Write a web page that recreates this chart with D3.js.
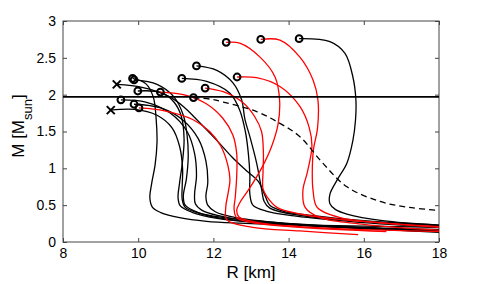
<!DOCTYPE html>
<html>
<head>
<meta charset="utf-8">
<script src="https://cdn.jsdelivr.net/npm/d3@7"></script>
<style>
  body { margin: 0; background: #fff; }
  svg { display: block; font-family: "Liberation Sans", Arial, sans-serif; }
</style>
</head>
<body>
<div id="chart"></div>
<script>
// mass-radius curves, points are [R km, M Msun] from max mass down to the crust
const blackA = [[9.85,2.22],[10.2,2.15],[10.4,1.97],[10.48,1.65],[10.5,1.35],[10.45,1.05],[10.36,0.8],[10.31,0.6],[10.38,0.47],[10.6,0.4],[11.1,0.33],[11.82,0.28],[12.7,0.255],[14.3,0.23],[16,0.215],[18,0.2]];
const blackB = [[9.89,2.2],[10.5,2.14],[10.95,1.97],[11.2,1.72],[11.3,1.45],[11.33,1.15],[11.28,0.85],[11.2,0.62],[11.25,0.5],[11.6,0.4],[12.3,0.33],[13.5,0.27],[15.5,0.21],[18,0.17]];
const blackC = [[9.99,2.05],[10.6,2.03],[10.95,1.9],[11.15,1.7],[11.22,1.4],[11.18,1.1],[11.1,0.8],[11.06,0.6],[11.12,0.49],[11.45,0.4],[12.1,0.32],[13.3,0.26],[15.5,0.2],[18,0.16]];
const blackD = [[9.27,1.79],[9.9,1.8],[10.5,1.72],[10.9,1.55],[11.1,1.3],[11.18,1.0],[11.17,0.75],[11.17,0.58],[11.25,0.47],[11.7,0.38],[12.5,0.3],[14,0.24],[16,0.19],[18,0.15]];
const blackE = [[9.54,1.93],[10.2,1.9],[10.85,1.75],[11.3,1.5],[11.5,1.2],[11.55,0.9],[11.5,0.65],[11.52,0.52],[11.7,0.43],[12.2,0.35],[13,0.28],[14.5,0.22],[18,0.14]];
const blackF = [[9.89,1.87],[10.6,1.82],[11.2,1.65],[11.6,1.4],[11.8,1.1],[11.85,0.8],[11.8,0.62],[11.85,0.5],[12.05,0.41],[12.6,0.33],[13.8,0.26],[15.5,0.2],[18,0.13]];
const blackG = [[9.43,2.14],[10.1,2.1],[10.8,1.98],[11.2,1.84],[11.56,1.66],[12.09,1.38],[12.5,1.15],[12.85,0.98],[13.2,0.82],[13.38,0.62],[13.5,0.5],[13.85,0.42],[14.6,0.36],[16,0.29],[18,0.23]];
const blackH = [[11.16,2.22],[11.82,2.18],[12.44,2.02],[12.7,1.79],[12.85,1.5],[12.93,1.2],[12.97,0.9],[12.97,0.65],[13.05,0.5],[13.4,0.42],[14.2,0.35],[15.8,0.27],[18,0.2]];
const blackI = [[11.55,2.39],[12.09,2.33],[12.52,2.16],[12.75,1.93],[12.84,1.66],[12.97,1.43],[13.15,1.07],[13.28,0.72],[13.35,0.55],[13.5,0.46],[14.3,0.36],[16,0.28],[18,0.22]];
const blackJ = [[14.28,2.76],[15.1,2.72],[15.5,2.56],[15.71,2.24],[15.79,1.93],[15.78,1.66],[15.71,1.38],[15.55,1.07],[15.3,0.85],[15.1,0.65],[15.1,0.52],[15.25,0.44],[15.55,0.38],[16.5,0.29],[18,0.23]];

const redA = [[10.02,1.82],[10.7,1.78],[11.46,1.66],[11.9,1.5],[12.2,1.3],[12.38,1.05],[12.44,0.84],[12.39,0.66],[12.33,0.48],[12.36,0.3],[13.05,0.2],[14.3,0.15],[15.85,0.1]];
const redB = [[10.59,2.035],[11.2,2.0],[11.8,1.88],[12.25,1.68],[12.52,1.45],[12.62,1.2],[12.62,0.9],[12.58,0.6],[12.55,0.45],[12.62,0.33],[13.2,0.25],[14.3,0.2],[16.6,0.14]];
const redC = [[11.78,2.09],[12.26,2.04],[12.79,1.89],[13.1,1.7],[13.28,1.5],[13.33,1.2],[13.32,0.95],[13.32,0.72],[13.43,0.61],[13.69,0.47],[14.3,0.38],[15.5,0.3],[17,0.24],[18,0.21]];
const redD = [[12.34,2.71],[12.7,2.7],[13.24,2.51],[13.64,2.24],[13.76,1.93],[13.72,1.6],[13.55,1.3],[13.3,1.02],[12.95,0.72],[12.7,0.53],[12.62,0.43],[12.68,0.34],[13.24,0.26],[14.3,0.21],[16.5,0.16],[18,0.14]];
const redE = [[12.63,2.24],[13.15,2.23],[13.77,2.11],[14.3,1.84],[14.55,1.55],[14.62,1.3],[14.5,0.95],[14.38,0.7],[14.44,0.47],[14.84,0.33],[16,0.24],[18,0.16]];
const redF = [[13.26,2.75],[13.77,2.74],[14.3,2.51],[14.65,2.2],[14.78,1.93],[14.77,1.55],[14.66,1.25],[14.63,0.95],[14.65,0.7],[14.76,0.47],[15.37,0.33],[16.5,0.26],[18,0.2]];

const dashedA = [[11.47,1.96],[11.91,1.94],[12.26,1.9],[13.15,1.77],[13.77,1.61],[14.3,1.43],[14.91,1.07],[15.55,0.75],[16.43,0.55],[17.2,0.47],[18,0.43]];

const blackCurves = [blackA, blackB, blackC, blackD, blackE, blackF, blackG, blackH, blackI, blackJ];
const redCurves = [redA, redB, redC, redD, redE, redF];
const dashedCurves = [dashedA];
// curves whose top end is marked with a cross instead of a circle
const crossCurves = [blackD, blackG];

const massLimit = 1.97;
const xTicks = [8, 10, 12, 14, 16, 18];
const yTicks = [0, 0.5, 1, 1.5, 2, 2.5, 3];

const width = 485;
const height = 284;
const margin = { top: 21, right: 46, bottom: 42, left: 63 };

const x = d3.scaleLinear().domain([8, 18]).range([margin.left, width - margin.right]);
const y = d3.scaleLinear().domain([0, 3]).range([height - margin.bottom, margin.top]);

const svg = d3.select('#chart')
    .append('svg')
    .attr('width', width)
    .attr('height', height);

svg.append('rect')
    .attr('width', width)
    .attr('height', height)
    .attr('fill', '#fff');

svg.append('clipPath')
    .attr('id', 'plot-clip')
    .append('rect')
    .attr('x', margin.left)
    .attr('y', margin.top)
    .attr('width', x(18) - x(8))
    .attr('height', y(0) - y(3));

// axes, matlab style: ticks pointing inward on all four sides
const axisColor = '#444';

function styleAxis(g) {
    g.select('.domain').remove();
    g.selectAll('.tick line').attr('stroke', axisColor);
    g.selectAll('.tick text')
        .attr('fill', '#000')
        .style('font-size', '14px')
        .style('font-family', '"Liberation Sans", Arial, sans-serif');
}

svg.append('g')
    .attr('transform', `translate(0,${y(0)})`)
    .call(d3.axisBottom(x).tickValues(xTicks).tickSizeInner(-4).tickSizeOuter(0).tickPadding(6).tickFormat(d3.format('d')))
    .call(styleAxis);

svg.append('g')
    .attr('transform', `translate(0,${y(3)})`)
    .call(d3.axisTop(x).tickValues(xTicks).tickSizeInner(-4).tickSizeOuter(0).tickFormat(''))
    .call(styleAxis);

svg.append('g')
    .attr('transform', `translate(${x(8)},0)`)
    .call(d3.axisLeft(y).tickValues(yTicks).tickSizeInner(-4).tickSizeOuter(0).tickPadding(7).tickFormat(d3.format('')))
    .call(styleAxis);

svg.append('g')
    .attr('transform', `translate(${x(18)},0)`)
    .call(d3.axisRight(y).tickValues(yTicks).tickSizeInner(-4).tickSizeOuter(0).tickFormat(''))
    .call(styleAxis);

svg.append('rect')
    .attr('x', x(8))
    .attr('y', y(3))
    .attr('width', x(18) - x(8))
    .attr('height', y(0) - y(3))
    .attr('fill', 'none')
    .attr('stroke', axisColor)
    .attr('stroke-width', 1);

// curves
const line = d3.line()
    .x(d => x(d[0]))
    .y(d => y(d[1]))
    .curve(d3.curveCatmullRom.alpha(0.5));

const plot = svg.append('g').attr('clip-path', 'url(#plot-clip)');

plot.selectAll('.black-curve')
    .data(blackCurves)
    .enter()
    .append('path')
    .attr('class', 'black-curve')
    .attr('d', line)
    .attr('fill', 'none')
    .attr('stroke', '#000')
    .attr('stroke-width', 1.3);

plot.selectAll('.red-curve')
    .data(redCurves)
    .enter()
    .append('path')
    .attr('class', 'red-curve')
    .attr('d', line)
    .attr('fill', 'none')
    .attr('stroke', '#ff0000')
    .attr('stroke-width', 1.3);

plot.selectAll('.dashed-curve')
    .data(dashedCurves)
    .enter()
    .append('path')
    .attr('class', 'dashed-curve')
    .attr('d', line)
    .attr('fill', 'none')
    .attr('stroke', '#000')
    .attr('stroke-width', 1.3)
    .attr('stroke-dasharray', '6,4');

// observed two solar mass limit
svg.append('line')
    .attr('x1', x(8))
    .attr('x2', x(18))
    .attr('y1', y(massLimit))
    .attr('y2', y(massLimit))
    .attr('stroke', '#000')
    .attr('stroke-width', 1.6);

// markers at the maximum mass end of each curve
const circleCurves = blackCurves.concat(redCurves, dashedCurves).filter(c => !crossCurves.includes(c));

svg.selectAll('.max-circle')
    .data(circleCurves)
    .enter()
    .append('circle')
    .attr('class', 'max-circle')
    .attr('cx', d => x(d[0][0]))
    .attr('cy', d => y(d[0][1]))
    .attr('r', 3.4)
    .attr('fill', 'none')
    .attr('stroke', '#000')
    .attr('stroke-width', 2);

const cross = svg.selectAll('.max-cross')
    .data(crossCurves)
    .enter()
    .append('g')
    .attr('class', 'max-cross')
    .attr('transform', d => `translate(${x(d[0][0])},${y(d[0][1])})`);

cross.append('path')
    .attr('d', 'M-4,-4L4,4M-4,4L4,-4')
    .attr('stroke', '#000')
    .attr('stroke-width', 2);

// axis titles
svg.append('text')
    .attr('x', 251)
    .attr('y', 278)
    .attr('text-anchor', 'middle')
    .style('font-size', '17px')
    .text('R [km]');

const yTitle = svg.append('text')
    .attr('transform', `translate(24,126) rotate(-90)`)
    .attr('text-anchor', 'middle')
    .style('font-size', '17px');

yTitle.append('tspan').text('M [M');
yTitle.append('tspan').attr('baseline-shift', 'sub').style('font-size', '13px').text('sun');
yTitle.append('tspan').text(']');
</script>
</body>
</html>
